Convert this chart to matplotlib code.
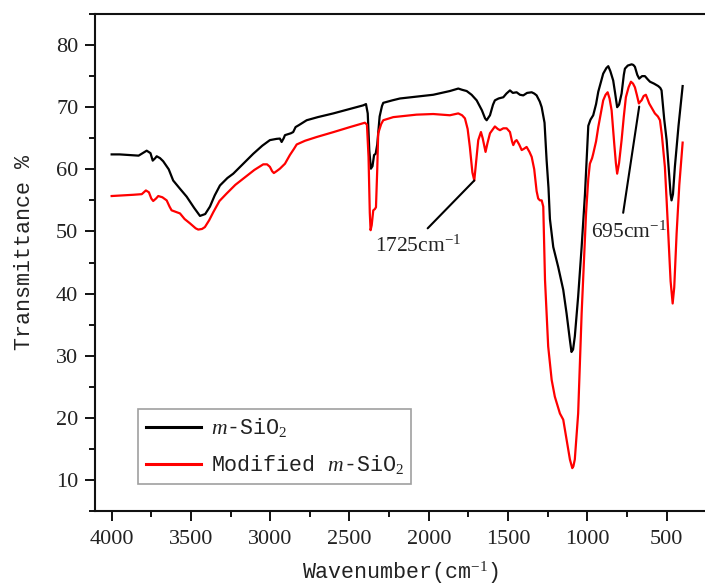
import matplotlib
matplotlib.use("Agg")
import matplotlib.pyplot as plt
from matplotlib.ticker import MultipleLocator

plt.rcParams["mathtext.fontset"] = "custom"
plt.rcParams["mathtext.rm"] = "Liberation Serif"
plt.rcParams["mathtext.it"] = "Liberation Serif:italic"

# FTIR spectra (wavenumber in cm^-1, transmittance in %)
sio2_x = [4000, 3950, 3885, 3830, 3779, 3755, 3741, 3725, 3716, 3695, 3675, 3640,
          3612, 3570, 3527, 3480, 3443, 3410, 3380, 3350, 3317, 3270, 3233, 3170,
          3107, 3050, 3002, 2960, 2939, 2928, 2915, 2907, 2870, 2855, 2840, 2820,
          2770, 2700, 2602, 2500, 2413, 2396, 2385, 2375, 2365, 2355, 2345, 2335,
          2325, 2310, 2295, 2287, 2230, 2182, 2077, 1972, 1867, 1814, 1790, 1761,
          1730, 1698, 1665, 1645, 1635, 1614, 1595, 1583, 1560, 1530, 1510, 1488,
          1470, 1446, 1425, 1404, 1380, 1351, 1335, 1320, 1300, 1288, 1270, 1257,
          1245, 1236, 1215, 1184, 1152, 1131, 1110, 1100, 1090, 1079, 1058, 1036,
          1015, 1002, 994, 980, 963, 945, 931, 915, 900, 880, 868, 855, 837, 825,
          812, 800, 784, 770, 763, 745, 721, 710, 700, 685, 673, 655, 637, 620,
          605, 580, 553, 540, 532, 515, 500, 485, 475, 469, 460, 448, 425, 399]
sio2_y = [62.4, 62.4, 62.3, 62.2, 63.0, 62.6, 61.4, 61.8, 62.1, 61.8, 61.3, 60.0,
          58.2, 56.9, 55.6, 53.8, 52.5, 52.8, 54.0, 55.8, 57.4, 58.6, 59.3, 60.9,
          62.5, 63.8, 64.7, 64.9, 64.95, 64.4, 65.0, 65.5, 65.8, 66.0, 66.8, 67.1,
          67.9, 68.4, 69.0, 69.7, 70.3, 70.5, 69.0, 63.0, 60.1, 60.5, 62.3, 62.5,
          64.0, 68.5, 70.2, 70.7, 71.1, 71.4, 71.7, 72.0, 72.6, 73.0, 72.8, 72.6,
          72.0, 71.1, 69.5, 68.2, 67.9, 68.7, 70.4, 71.1, 71.4, 71.6, 72.2, 72.7,
          72.3, 72.4, 72.0, 71.9, 72.3, 72.4, 72.2, 71.9, 70.9, 70.0, 67.5, 61.5,
          57.0, 52.0, 47.5, 44.3, 40.6, 36.8, 32.5, 30.6, 31.0, 33.1, 39.5, 47.5,
          56.0, 63.0, 67.0, 68.0, 68.7, 70.5, 72.5, 74.0, 75.4, 76.3, 76.6, 75.8,
          74.3, 72.3, 70.0, 70.4, 72.2, 75.2, 76.2, 76.7, 76.9, 76.8, 76.5, 75.2,
          74.6, 75.0, 75.0, 74.5, 74.1, 73.8, 73.4, 73.1, 72.7, 68.0, 64.7, 59.5,
          56.0, 55.0, 56.0, 60.4, 67.0, 73.4]

mod_x = [4000, 3930, 3864, 3810, 3784, 3765, 3750, 3738, 3720, 3706, 3680, 3653,
         3635, 3622, 3590, 3569, 3540, 3506, 3470, 3454, 3430, 3412, 3385, 3359,
         3320, 3275, 3220, 3170, 3100, 3044, 3020, 3002, 2988, 2977, 2960, 2939,
         2907, 2876, 2850, 2833, 2780, 2707, 2600, 2497, 2403, 2390, 2380, 2372,
         2367, 2360, 2350, 2340, 2333, 2325, 2319, 2300, 2287, 2224, 2077, 1972,
         1867, 1814, 1790, 1772, 1755, 1741, 1725, 1713, 1700, 1688, 1671, 1660,
         1642, 1630, 1614, 1583, 1565, 1551, 1530, 1509, 1488, 1475, 1467, 1456,
         1446, 1430, 1414, 1400, 1383, 1365, 1351, 1335, 1320, 1310, 1299, 1288,
         1278, 1267, 1257, 1247, 1225, 1205, 1173, 1152, 1131, 1110, 1095, 1088,
         1079, 1058, 1036, 1020, 1008, 994, 984, 970, 963, 945, 931, 915, 900, 885,
         872, 860, 847, 830, 820, 812, 800, 784, 770, 757, 740, 725, 712, 700, 688,
         675, 666, 658, 645, 631, 620, 610, 590, 574, 555, 542, 530, 511, 500, 490,
         475, 462, 452, 437, 420, 399]
mod_y = [55.7, 55.8, 55.9, 56.0, 56.6, 56.3, 55.3, 54.9, 55.3, 55.7, 55.5, 55.0,
         54.0, 53.4, 53.1, 52.9, 52.0, 51.3, 50.5, 50.3, 50.4, 50.7, 51.8, 53.1,
         54.9, 56.1, 57.5, 58.5, 59.9, 60.8, 60.8, 60.4, 59.7, 59.4, 59.7, 60.1,
         60.9, 62.3, 63.3, 64.0, 64.6, 65.2, 66.0, 66.8, 67.5, 67.2, 62.0, 53.0,
         50.2, 51.0, 53.4, 53.6, 53.9, 60.0, 65.8, 67.3, 67.9, 68.4, 68.8, 68.9,
         68.7, 69.0, 68.7, 68.2, 66.5, 63.6, 59.5, 58.2, 61.5, 64.7, 66.0, 65.0,
         62.8, 64.2, 65.8, 66.9, 66.5, 66.3, 66.6, 66.6, 66.0, 64.5, 63.9, 64.5,
         64.7, 64.0, 63.1, 63.3, 63.6, 62.8, 62.0, 60.0, 56.5, 55.3, 55.0, 55.0,
         54.0, 42.2, 37.0, 31.5, 26.1, 23.4, 20.7, 19.7, 16.5, 13.3, 11.9, 12.2,
         13.3, 20.7, 36.8, 46.0, 53.0, 58.5, 60.9, 61.8, 62.5, 64.5, 66.8, 69.0,
         71.1, 72.0, 72.4, 71.4, 69.5, 64.0, 61.0, 59.3, 61.0, 64.7, 68.5, 71.6,
         73.2, 74.1, 73.8, 73.2, 72.0, 70.6, 70.9, 71.1, 71.8, 72.0, 71.3, 70.6,
         69.7, 69.0, 68.5, 67.9, 65.5, 60.4, 55.0, 49.7, 42.0, 38.4, 41.0, 49.7,
         57.5, 64.3]

series_labels = [r"$\mathit{m}$-SiO$_2$", r"Modified $\mathit{m}$-SiO$_2$"]
peak_labels = [r"1725cm$^{-1}$", r"695cm$^{-1}$"]
peak_points = [(1713, 58.2), (673, 70.1)]

x_ticks = [4000, 3500, 3000, 2500, 2000, 1500, 1000, 500]
y_ticks = [10, 20, 30, 40, 50, 60, 70, 80]

fig = plt.figure(figsize=(7.05, 5.88), dpi=100)
ax = fig.add_axes([95 / 705, 77 / 588, 610 / 705, 497 / 588])

ax.plot(sio2_x, sio2_y, color="black", lw=1.6, label=series_labels[0])
ax.plot(mod_x, mod_y, color="#ff0000", lw=1.6, label=series_labels[1])

ax.set_xlim(4105, 258)
ax.set_ylim(5, 85)
ax.set_xticks(x_ticks)
ax.set_yticks(y_ticks)
ax.xaxis.set_minor_locator(MultipleLocator(250))
ax.yaxis.set_minor_locator(MultipleLocator(5))

for side in ("left", "bottom", "top"):
    ax.spines[side].set_linewidth(1.5)
    ax.spines[side].set_color("#111111")
ax.spines["right"].set_visible(False)

ax.tick_params(which="major", direction="out", length=7, width=1.4,
               color="#111111", top=False, right=False)
ax.tick_params(which="minor", direction="out", length=4.3, width=1.4,
               color="#111111", top=False, right=False)
ax.tick_params(axis="y", which="major", pad=5)
ax.tick_params(axis="x", which="major", pad=7)
for lab in ax.get_xticklabels() + ax.get_yticklabels():
    lab.set_fontfamily("Liberation Serif")
    lab.set_fontsize(16)
    lab.set_color("#222222")

ax.set_xlabel(r"Wavenumber(cm$^{-1}$)", family="Liberation Mono",
              fontsize=15.6, color="#222222")
ax.set_ylabel("Transmittance %", family="Liberation Mono",
              fontsize=15.6, color="#222222")
ax.xaxis.set_label_coords(0.5, -0.098)
ax.yaxis.set_label_coords(-0.098, 0.52)

# leader lines and peak labels
text_pos = [(2068, 46.7), (740, 49.0)]
line_start = [(2007, 50.5), (774, 53.0)]
for lab, pt, tp, ls in zip(peak_labels, peak_points, text_pos, line_start):
    ax.annotate("", xy=pt, xytext=ls,
                arrowprops=dict(arrowstyle="-", color="black", lw=1.5,
                                shrinkA=0, shrinkB=0))
    ax.text(tp[0], tp[1], lab, ha="center", va="baseline",
            family="Liberation Serif", fontsize=15.5, color="#222222")

leg = ax.legend(loc="lower left", bbox_to_anchor=((138 - 95) / 610, (511 - 484) / 497),
                prop={"family": "Liberation Mono", "size": 15.6},
                frameon=True, fancybox=False, handlelength=2.55,
                handletextpad=0.45, labelspacing=0.65, borderpad=0.35,
                borderaxespad=0)
leg.get_frame().set_edgecolor("#888888")
leg.get_frame().set_linewidth(1.2)
for t in leg.get_texts():
    t.set_color("#222222")
for h in leg.get_lines():
    h.set_linewidth(2.2)

fig.savefig("out.png", dpi=100)
